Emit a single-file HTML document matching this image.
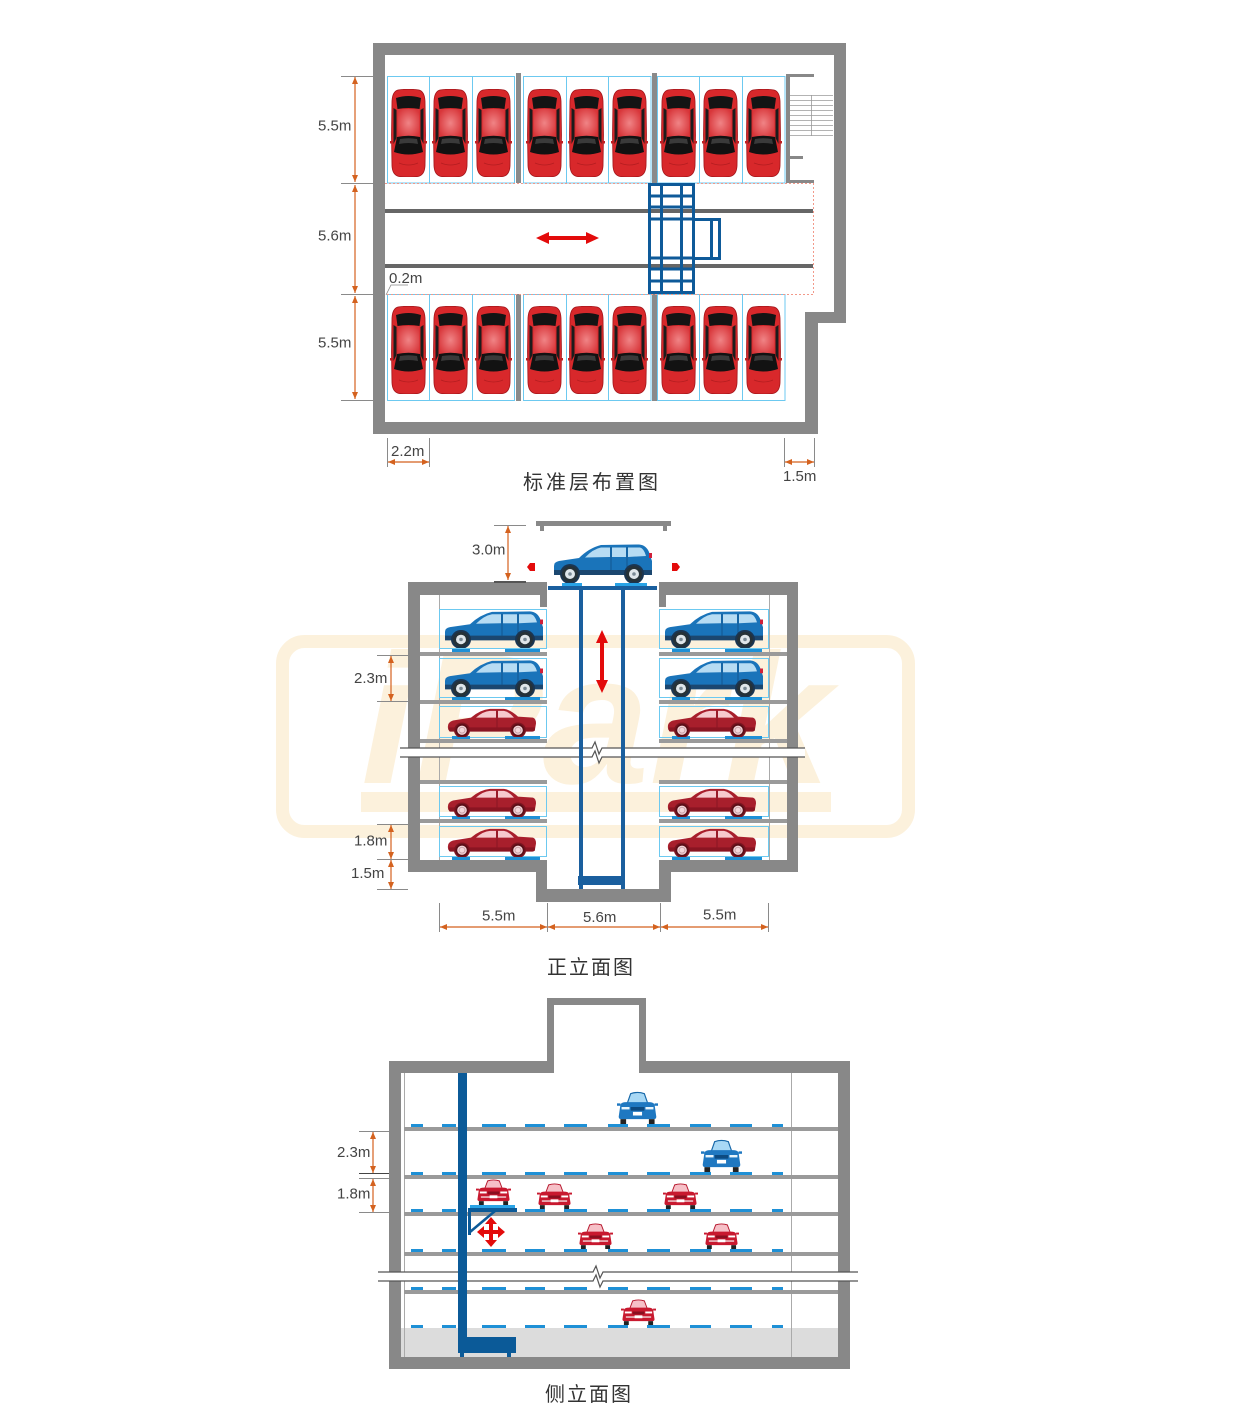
<!DOCTYPE html>
<html><head><meta charset="utf-8">
<style>
html,body{margin:0;padding:0;background:#fff;}
svg{display:block;}
.d{font-family:"Liberation Sans",sans-serif;font-size:15px;fill:#444;}
.ti{font-family:"Liberation Sans","Noto Sans CJK SC",sans-serif;font-size:20px;fill:#333;}
.dim{stroke:#d4621f;stroke-width:1.2;fill:none;marker-start:url(#ar);marker-end:url(#ar);}
.tk{stroke:#8a8a8a;stroke-width:1;}
</style></head>
<body>
<svg width="1250" height="1421" viewBox="0 0 1250 1421" xmlns="http://www.w3.org/2000/svg">
<defs>
<marker id="ar" viewBox="0 0 7 6" refX="7" refY="3" markerWidth="7" markerHeight="6" markerUnits="userSpaceOnUse" orient="auto-start-reverse"><path d="M0,0 L7,3 L0,6 Z" fill="#d4621f"/></marker>
<radialGradient id="rg" cx="0.5" cy="0.5" r="0.6"><stop offset="0" stop-color="#f08486"/><stop offset="1" stop-color="#d8363a"/></radialGradient>
<symbol id="tc" viewBox="0 0 37 88" preserveAspectRatio="none">
<path d="M8,1 Q18.5,-0.5 29,1 Q34.5,2.5 35,12 L35.5,46 L35,77 Q34.5,86 28,87.5 Q18.5,88.5 9,87.5 Q2.5,86 2,77 L1.5,46 L2,12 Q2.5,2.5 8,1 Z" fill="#d8282b" stroke="#a3151a" stroke-width="0.8"/>
<path d="M6,9 Q18.5,5 31,9 L29.5,20 Q18.5,18 7.5,20 Z" fill="#141414"/>
<rect x="7.5" y="20" width="22" height="28" fill="url(#rg)"/>
<path d="M3.5,19 L6.5,21 L6.5,49 L3.5,55 Z" fill="#1c1c1c"/>
<path d="M33.5,19 L30.5,21 L30.5,49 L33.5,55 Z" fill="#1c1c1c"/>
<path d="M7,48 Q18.5,45.5 30,48 L33,63 Q18.5,68 4,63 Z" fill="#121212"/>
<path d="M10,50 Q18.5,48.5 27,50 L28,55 Q18.5,53 9,55 Z" fill="#3a3a3a"/>
<rect x="0" y="52" width="3" height="2.5" fill="#c01f22"/>
<rect x="34" y="52" width="3" height="2.5" fill="#c01f22"/>
<path d="M9,74 Q18.5,78 28,74" stroke="#b41d20" stroke-width="0.8" fill="none"/>
</symbol>
<symbol id="suv" viewBox="0 0 100 40" preserveAspectRatio="none">
<path d="M1,31 L1,23 Q1,19 6,18 L26,15 Q36,5 48,2 L86,1.5 Q93,2 96,9 L99,18 L99,31 Z" fill="#1a74ba"/>
<path d="M1,27 L99,27 L99,32 L1,32 Z" fill="#1b4770"/>
<path d="M32,14.5 Q40,6 48,4.5 L57,4.5 L57,14 Z" fill="#b7dcf3"/>
<path d="M59,4.5 L73,4.5 L73,14 L59,14 Z" fill="#b7dcf3"/>
<path d="M75,4.5 L87,4.5 Q91,5.5 93,13 L75,14 Z" fill="#b7dcf3"/>
<path d="M58,4 L58,27 M74,4 L74,27" stroke="#0f4f86" stroke-width="0.8"/>
<rect x="96" y="10" width="3" height="5" fill="#d0203a"/>
<circle cx="17" cy="31" r="10" fill="#1b3550"/><circle cx="81" cy="31" r="10" fill="#1b3550"/>
<circle cx="17" cy="31" r="8" fill="#263238"/><circle cx="81" cy="31" r="8" fill="#263238"/>
<circle cx="17" cy="31" r="5" fill="#dfe6ea"/><circle cx="81" cy="31" r="5" fill="#dfe6ea"/>
<circle cx="17" cy="31" r="1.8" fill="#7a8a95"/><circle cx="81" cy="31" r="1.8" fill="#7a8a95"/>
</symbol>
<symbol id="sed" viewBox="0 0 90 31" preserveAspectRatio="none">
<path d="M1,22 Q0,16 6,14 L24,11 Q33,3 43,2 L57,2 Q64,3 71,10 L86,11 Q89,12 89,17 L88,23 Q87,25 84,25 L3,25 Q1,24 1,22 Z" fill="#a81f2c"/>
<path d="M2,21 L88,21 L88,24 Q87,25.5 84,25.5 L3,25.5 Q1.5,25 2,21 Z" fill="#8a1522"/>
<path d="M29,11 Q36,4.5 43,4 L49,4 L49,11 Z" fill="#f6c9cd"/>
<path d="M51,4 L57,4 Q62,5 67,11 L51,11 Z" fill="#f6c9cd"/>
<path d="M50,4 L50,21" stroke="#7d1420" stroke-width="0.7"/>
<circle cx="15" cy="24" r="8" fill="#7d1420"/><circle cx="71" cy="24" r="8" fill="#7d1420"/>
<circle cx="15" cy="24" r="6.5" fill="#5a0f18"/><circle cx="71" cy="24" r="6.5" fill="#5a0f18"/>
<circle cx="15" cy="24" r="4.8" fill="#f3d6da"/><circle cx="71" cy="24" r="4.8" fill="#f3d6da"/>
<circle cx="15" cy="24" r="3" fill="none" stroke="#c9a0a6"/><circle cx="71" cy="24" r="3" fill="none" stroke="#c9a0a6"/>
</symbol>
<symbol id="fr" viewBox="0 0 36 28" preserveAspectRatio="none">
<path d="M9,11 L12,3 Q18,1 24,3 L27,11 Z" fill="#f6c0c7" stroke="#b5152b" stroke-width="1"/>
<path d="M3,12 Q4,10 8,10 L28,10 Q32,10 33,12 L34.5,22 Q34.5,24 32,24 L4,24 Q1.5,24 1.5,22 Z" fill="#c8192f"/>
<rect x="0" y="11" width="3" height="2" fill="#c8192f"/><rect x="33" y="11" width="3" height="2" fill="#c8192f"/>
<rect x="4" y="14" width="7" height="2" fill="#fff"/><rect x="25" y="14" width="7" height="2" fill="#fff"/>
<rect x="12" y="14" width="12" height="3" fill="#8a0f20"/>
<rect x="5" y="19" width="26" height="1.5" fill="#f0d0d4"/>
<rect x="14" y="18" width="8" height="3" fill="#fff"/>
<rect x="3" y="24" width="5" height="4" fill="#222"/><rect x="28" y="24" width="5" height="4" fill="#222"/>
</symbol>
<symbol id="fb" viewBox="0 0 36 28" preserveAspectRatio="none">
<path d="M9,11 L12,3 Q18,1 24,3 L27,11 Z" fill="#a8d8f5" stroke="#1667a8" stroke-width="1"/>
<path d="M3,12 Q4,10 8,10 L28,10 Q32,10 33,12 L34.5,22 Q34.5,24 32,24 L4,24 Q1.5,24 1.5,22 Z" fill="#1f78c1"/>
<rect x="0" y="11" width="3" height="2" fill="#1f78c1"/><rect x="33" y="11" width="3" height="2" fill="#1f78c1"/>
<rect x="4" y="14" width="7" height="2" fill="#e8f4fb"/><rect x="25" y="14" width="7" height="2" fill="#e8f4fb"/>
<rect x="12" y="14" width="12" height="3" fill="#0d4a80"/>
<rect x="14" y="18" width="8" height="3" fill="#fff"/>
<rect x="3" y="24" width="5" height="4" fill="#222"/><rect x="28" y="24" width="5" height="4" fill="#222"/>
</symbol>
</defs>

<!-- watermark -->
<rect x="282.5" y="641.5" width="626" height="190" rx="22" fill="none" stroke="#fcf1dc" stroke-width="13"/>
<text x="361" y="783" font-family="Liberation Sans, sans-serif" font-size="185" font-weight="bold" font-style="italic" fill="#fcf1dc" textLength="470" lengthAdjust="spacingAndGlyphs">iPark</text>
<rect x="361" y="792" width="470" height="20" fill="#fcf1dc"/>

<!-- ================= PLAN ================= -->
<path fill="#888" fill-rule="evenodd" d="M373,43 H846 V323 H818 V434 H373 Z M385,55 V422 H805 V312 H834 V55 Z"/>
<!-- pillars -->
<g fill="#8a8a8a">
<rect x="516" y="73" width="5" height="110"/><rect x="652" y="73" width="5" height="110"/>
<rect x="516" y="294" width="5" height="107"/><rect x="652" y="294" width="5" height="107"/>
</g>
<!-- bays -->
<g fill="none" stroke="#6cc9f0" stroke-width="1">
<rect x="387.5" y="76.5" width="127" height="106.5"/><rect x="523.5" y="76.5" width="127.5" height="106.5"/><rect x="657.5" y="76.5" width="127.5" height="106.5"/>
<path d="M429.5,76 V183 M472.5,76 V183 M566.5,76 V183 M608.5,76 V183 M699.5,76 V183 M742.5,76 V183"/>
<rect x="387.5" y="294.5" width="127" height="106"/><rect x="523.5" y="294.5" width="127.5" height="106"/><rect x="657.5" y="294.5" width="127.5" height="106"/>
<path d="M429.5,294 V401 M472.5,294 V401 M566.5,294 V401 M608.5,294 V401 M699.5,294 V401 M742.5,294 V401"/>
</g>
<!-- cars top row -->
<use href="#tc" x="390" y="89" width="37" height="88"/><use href="#tc" x="432" y="89" width="37" height="88"/><use href="#tc" x="475" y="89" width="37" height="88"/>
<use href="#tc" x="526" y="89" width="37" height="88"/><use href="#tc" x="568" y="89" width="37" height="88"/><use href="#tc" x="611" y="89" width="37" height="88"/>
<use href="#tc" x="660" y="89" width="37" height="88"/><use href="#tc" x="702" y="89" width="37" height="88"/><use href="#tc" x="745" y="89" width="37" height="88"/>
<!-- cars bottom row -->
<use href="#tc" x="390" y="306" width="37" height="88"/><use href="#tc" x="432" y="306" width="37" height="88"/><use href="#tc" x="475" y="306" width="37" height="88"/>
<use href="#tc" x="526" y="306" width="37" height="88"/><use href="#tc" x="568" y="306" width="37" height="88"/><use href="#tc" x="611" y="306" width="37" height="88"/>
<use href="#tc" x="660" y="306" width="37" height="88"/><use href="#tc" x="702" y="306" width="37" height="88"/><use href="#tc" x="745" y="306" width="37" height="88"/>
<!-- stair -->
<g fill="#888"><rect x="786" y="74" width="4" height="109"/><rect x="786" y="74" width="28" height="3"/><rect x="786" y="180" width="28" height="3"/><rect x="790" y="156" width="13" height="3"/></g>
<g stroke="#9a9a9a" stroke-width="0.8">
<path d="M790,95.5 H833 M790,100.5 H833 M790,105.5 H833 M790,110.5 H833 M790,115.5 H833 M790,120.5 H833 M790,125.5 H833 M790,130.5 H833 M790,135.5 H833 M811.5,95 V136"/>
</g>
<!-- aisle -->
<rect x="385" y="209" width="428" height="4" fill="#666"/>
<rect x="385" y="264" width="428" height="4" fill="#666"/>
<path d="M385,183.5 H813.5 V294.5 H385" fill="none" stroke="#f2998a" stroke-width="1" stroke-dasharray="2 2"/>
<polygon points="536,238 549,232 549,236 586,236 586,232 599,238 586,244 586,240 549,240 549,244" fill="#e30b0b"/>
<!-- shuttle frame -->
<g stroke="#0e5a99" stroke-width="3" fill="none">
<rect x="649.5" y="184.5" width="44" height="108"/>
<path d="M661.5,184 V293 M681.5,184 V293 M649,196 H694 M649,207 H694 M649,219 H694 M649,258 H694 M649,269 H694 M649,281 H694"/>
<rect x="693.5" y="219.5" width="26" height="39"/>
<path d="M711.5,219 V259"/>
</g>
<!-- plan dims -->
<g class="tk"><path d="M341,76.5 H373 M341,183.5 H373 M341,294.5 H373 M341,400.5 H373"/>
<path d="M387.5,438 V467 M429.5,438 V467 M784.5,438 V467 M814.5,438 V467"/></g>
<line class="dim" x1="355" y1="77" x2="355" y2="182"/>
<line class="dim" x1="355" y1="185" x2="355" y2="293"/>
<line class="dim" x1="355" y1="296" x2="355" y2="399"/>
<line class="dim" x1="388" y1="462" x2="429" y2="462"/>
<line class="dim" x1="785" y1="462" x2="814" y2="462"/>
<polyline points="386,295 391,285 408,285" fill="none" stroke="#888" stroke-width="0.8"/>
<text class="d" x="318" y="130.5">5.5m</text>
<text class="d" x="318" y="240.5">5.6m</text>
<text class="d" x="318" y="347.5">5.5m</text>
<text class="d" x="389" y="283">0.2m</text>
<text class="d" x="391" y="456">2.2m</text>
<text class="d" x="783" y="481">1.5m</text>
<text class="ti" x="523" y="489" letter-spacing="3">标准层布置图</text>

<!-- ================= FRONT ELEVATION ================= -->
<!-- canopy -->
<rect x="536" y="521" width="135" height="5" fill="#888"/>
<rect x="540" y="526" width="4" height="5" fill="#888"/><rect x="663" y="526" width="4" height="5" fill="#888"/>
<!-- walls -->
<g fill="#888">
<rect x="408" y="582" width="139" height="13"/><rect x="540" y="582" width="7" height="25"/>
<rect x="659" y="582" width="139" height="13"/><rect x="659" y="582" width="7" height="25"/>
<rect x="408" y="582" width="12" height="290"/><rect x="787" y="582" width="11" height="290"/>
<polygon points="408,860 547,860 547,889 659,889 659,860 798,860 798,872 671,872 671,902 536,902 536,872 408,872"/>
</g>
<path d="M439.5,595 V860 M769.5,595 V860" stroke="#aaa" stroke-width="1"/>
<!-- slabs -->
<g fill="#9a9a9a">
<rect x="420" y="652" width="127" height="4"/><rect x="420" y="700" width="127" height="4"/><rect x="420" y="739" width="127" height="4"/><rect x="420" y="780" width="127" height="4"/><rect x="420" y="819" width="127" height="4"/>
<rect x="659" y="652" width="128" height="4"/><rect x="659" y="700" width="128" height="4"/><rect x="659" y="739" width="128" height="4"/><rect x="659" y="780" width="128" height="4"/><rect x="659" y="819" width="128" height="4"/>
</g>
<!-- bays -->
<g fill="none" stroke="#6cc9f0" stroke-width="1">
<rect x="439.5" y="609.5" width="107" height="39"/><rect x="439.5" y="658.5" width="107" height="39"/><rect x="439.5" y="706.5" width="107" height="31"/><rect x="439.5" y="786.5" width="107" height="30"/><rect x="439.5" y="826.5" width="107" height="30"/>
<rect x="659.5" y="609.5" width="109" height="39"/><rect x="659.5" y="658.5" width="109" height="39"/><rect x="659.5" y="706.5" width="109" height="31"/><rect x="659.5" y="786.5" width="109" height="30"/><rect x="659.5" y="826.5" width="109" height="30"/>
</g>
<!-- pads -->
<g fill="#1e90d6">
<rect x="452" y="649" width="18" height="3"/><rect x="505" y="649" width="35" height="3"/><rect x="672" y="649" width="18" height="3"/><rect x="725" y="649" width="37" height="3"/>
<rect x="452" y="697" width="18" height="3"/><rect x="505" y="697" width="35" height="3"/><rect x="672" y="697" width="18" height="3"/><rect x="725" y="697" width="37" height="3"/>
<rect x="452" y="736" width="18" height="3"/><rect x="505" y="736" width="35" height="3"/><rect x="672" y="736" width="18" height="3"/><rect x="725" y="736" width="37" height="3"/>
<rect x="452" y="816" width="18" height="3"/><rect x="505" y="816" width="35" height="3"/><rect x="672" y="816" width="18" height="3"/><rect x="725" y="816" width="37" height="3"/>
<rect x="452" y="857" width="18" height="3"/><rect x="505" y="857" width="35" height="3"/><rect x="672" y="857" width="18" height="3"/><rect x="725" y="857" width="37" height="3"/>
</g>
<!-- cars -->
<use href="#suv" x="444" y="610" width="100" height="38"/><use href="#suv" x="444" y="659" width="100" height="38"/>
<use href="#sed" x="447" y="707" width="90" height="30"/><use href="#sed" x="447" y="787" width="90" height="30"/><use href="#sed" x="447" y="827" width="90" height="30"/>
<use href="#suv" x="664" y="610" width="100" height="38"/><use href="#suv" x="664" y="659" width="100" height="38"/>
<use href="#sed" x="667" y="707" width="90" height="30"/><use href="#sed" x="667" y="787" width="90" height="30"/><use href="#sed" x="667" y="827" width="90" height="30"/>
<!-- break band -->
<rect x="400" y="748" width="405" height="9" fill="#fff"/>
<path d="M400,748 H592 L595,742 L599,754 L602,748 H805 M400,757 H592 L595,751 L599,763 L602,757 H805" fill="none" stroke="#555" stroke-width="1.2"/>
<!-- shaft -->
<g fill="#1a5f9e">
<rect x="579" y="590" width="4" height="299"/><rect x="621" y="590" width="4" height="299"/>
<rect x="548" y="586" width="109" height="4"/>
<rect x="578" y="876" width="47" height="9"/>
</g>
<rect x="562" y="583" width="20" height="3" fill="#29a3e6"/><rect x="615" y="583" width="32" height="3" fill="#29a3e6"/>
<use href="#suv" x="553" y="543" width="100" height="40"/>
<polygon points="527,567 530,563 535,563 535,571 530,571" fill="#e30b0b"/>
<polygon points="672,563 677,563 680,567 677,571 672,571" fill="#e30b0b"/>
<polygon points="602,630 608,643 604,643 604,680 608,680 602,693 596,680 600,680 600,643 596,643" fill="#e30b0b"/>
<!-- front dims -->
<g class="tk"><path d="M494,525.5 H526 M377,655.5 H408 M377,701.5 H408 M377,824.5 H408 M377,859.5 H408 M377,889.5 H408 M439.5,903 V932 M547.5,903 V932 M660.5,903 V932 M768.5,903 V932"/></g>
<rect x="494" y="581" width="32" height="2" fill="#555"/>
<line class="dim" x1="508" y1="526" x2="508" y2="580"/>
<line class="dim" x1="391" y1="656" x2="391" y2="701"/>
<line class="dim" x1="391" y1="825" x2="391" y2="859"/>
<line class="dim" x1="391" y1="860" x2="391" y2="889"/>
<line class="dim" x1="440" y1="927" x2="547" y2="927"/>
<line class="dim" x1="548" y1="927" x2="660" y2="927"/>
<line class="dim" x1="661" y1="927" x2="768" y2="927"/>
<text class="d" x="472" y="554.5">3.0m</text>
<text class="d" x="354" y="683">2.3m</text>
<text class="d" x="354" y="845.5">1.8m</text>
<text class="d" x="351" y="878">1.5m</text>
<text class="d" x="482" y="920.5">5.5m</text>
<text class="d" x="583" y="922">5.6m</text>
<text class="d" x="703" y="919.5">5.5m</text>
<text class="ti" x="547" y="974" letter-spacing="2">正立面图</text>

<!-- ================= SIDE ELEVATION ================= -->
<rect x="401" y="1328" width="437" height="29" fill="#dcdcdc"/>
<g fill="#888">
<rect x="547" y="998" width="99" height="7"/><rect x="547" y="998" width="7" height="75"/><rect x="639" y="998" width="7" height="75"/>
<rect x="389" y="1061" width="165" height="12"/><rect x="639" y="1061" width="211" height="12"/>
<rect x="389" y="1061" width="12" height="308"/><rect x="838" y="1061" width="12" height="308"/>
<rect x="389" y="1357" width="461" height="12"/>
</g>
<path d="M404.5,1073 V1357 M791.5,1073 V1357" stroke="#aaa" stroke-width="1"/>
<g fill="#9a9a9a">
<rect x="404" y="1127" width="434" height="4"/><rect x="404" y="1175" width="434" height="4"/><rect x="404" y="1212" width="434" height="4"/><rect x="404" y="1252" width="434" height="4"/><rect x="404" y="1290" width="434" height="4"/>
</g>
<g fill="#1e90d6" id="padrow">
<rect x="411" y="1124" width="12" height="3"/><rect x="442" y="1124" width="14" height="3"/><rect x="482" y="1124" width="24" height="3"/><rect x="525" y="1124" width="20" height="3"/><rect x="564" y="1124" width="23" height="3"/><rect x="608" y="1124" width="20" height="3"/><rect x="647" y="1124" width="23" height="3"/><rect x="690" y="1124" width="21" height="3"/><rect x="730" y="1124" width="22" height="3"/><rect x="772" y="1124" width="11" height="3"/>
</g>
<use href="#padrow" y="48"/>
<use href="#padrow" y="85"/>
<use href="#padrow" y="125"/>
<use href="#padrow" y="163"/>
<use href="#padrow" y="201"/>
<!-- break band -->
<rect x="378" y="1272" width="480" height="9" fill="#fff"/>
<path d="M378,1272 H593 L596,1266 L600,1278 L603,1272 H858 M378,1281 H593 L596,1275 L600,1287 L603,1281 H858" fill="none" stroke="#555" stroke-width="1.2"/>
<!-- column -->
<g fill="#0b5a98">
<rect x="458" y="1073" width="9" height="280"/><rect x="458" y="1337" width="58" height="16"/>
<rect x="460" y="1353" width="4" height="4"/><rect x="507" y="1353" width="4" height="4"/>
<rect x="468" y="1208" width="49" height="4"/><rect x="468" y="1208" width="3" height="27"/>
</g>
<line x1="470" y1="1232" x2="495" y2="1211" stroke="#0b5a98" stroke-width="2.5"/>
<rect x="470" y="1205" width="45" height="3" fill="#29a3e6"/>
<path d="M491,1217 L497,1224 L493,1224 L493,1230 L498,1230 L498,1226 L505,1232 L498,1238 L498,1234 L493,1234 L493,1240 L497,1240 L491,1247 L485,1240 L489,1240 L489,1234 L484,1234 L484,1238 L477,1232 L484,1226 L484,1230 L489,1230 L489,1224 L485,1224 Z" fill="#e30b0b"/>
<!-- cars -->
<use href="#fb" x="617" y="1090" width="41" height="34"/>
<use href="#fb" x="701" y="1138" width="41" height="34"/>
<use href="#fr" x="476" y="1178" width="35" height="27"/>
<use href="#fr" x="537" y="1182" width="35" height="27"/>
<use href="#fr" x="663" y="1182" width="35" height="27"/>
<use href="#fr" x="578" y="1222" width="35" height="27"/>
<use href="#fr" x="704" y="1222" width="35" height="27"/>
<use href="#fr" x="621" y="1298" width="35" height="27"/>
<!-- side dims -->
<g class="tk"><path d="M359,1131.5 H389 M359,1178.5 H389 M359,1212.5 H389"/></g>
<path d="M359,1173.5 H389" stroke="#444" stroke-width="1"/>
<line class="dim" x1="373" y1="1132" x2="373" y2="1173"/>
<line class="dim" x1="373" y1="1179" x2="373" y2="1212"/>
<text class="d" x="337" y="1157">2.3m</text>
<text class="d" x="337" y="1198.5">1.8m</text>
<text class="ti" x="545" y="1401" letter-spacing="2">侧立面图</text>
</svg>
</body></html>
